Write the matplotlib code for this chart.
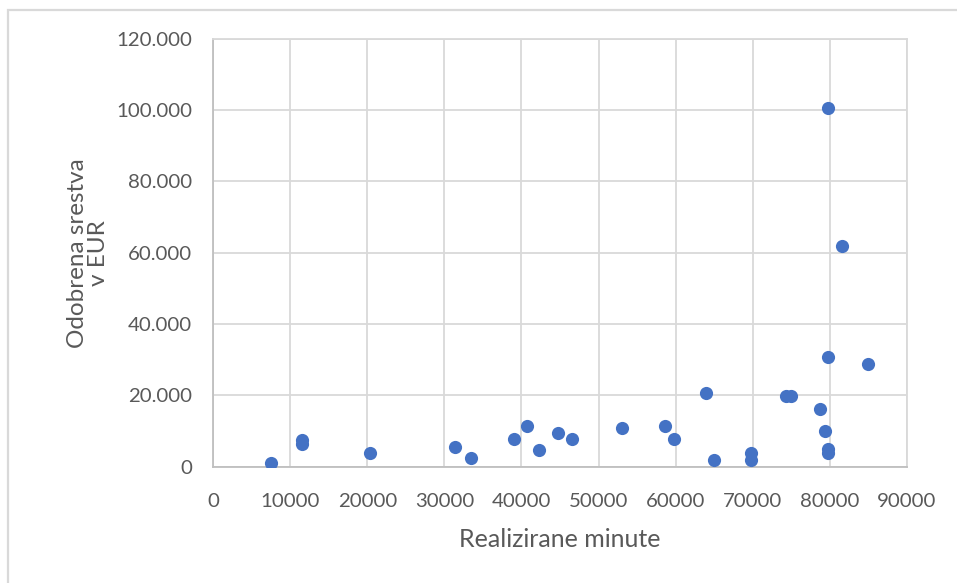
import matplotlib.pyplot as plt
from matplotlib.patches import Rectangle
from matplotlib.ticker import FuncFormatter

plt.rcParams['font.family'] = ['Lato', 'DejaVu Sans']

# Realizirane minute vs. odobrena sredstva (EUR)
minute = [7500, 11600, 11600, 20300, 31400, 33400, 39000, 40700, 42300,
          44800, 46500, 53100, 58600, 59800, 63900, 65000, 69800, 69800,
          74300, 74900, 78700, 79400, 79700, 79700, 79700, 85000, 81600,
          79700]
sredstva = [1000, 6500, 7500, 3900, 5600, 2400, 7800, 11500, 4700,
            9400, 7900, 10800, 11500, 7900, 20600, 1900, 3800, 1900,
            19900, 19900, 16200, 10100, 5100, 3800, 30900, 28700, 61900,
            100700]

x_ticks = list(range(0, 90001, 10000))
y_ticks = list(range(0, 120001, 20000))

grid_col = '#d9d9d9'
text_col = '#595959'

fig = plt.figure(figsize=(9.57, 5.83), dpi=100)
ax = fig.add_axes([0.2226, 0.1995, 0.7252, 0.7338])

ax.scatter(minute, sredstva, s=90, color='#4472c4', zorder=3, linewidths=0)

ax.set_xlim(0, 90000)
ax.set_ylim(0, 120000)
ax.set_xticks(x_ticks)
ax.set_yticks(y_ticks)
ax.yaxis.set_major_formatter(FuncFormatter(lambda v, p: f"{int(v):,}".replace(",", ".")))
ax.grid(True, color=grid_col, linewidth=1.3)
ax.set_axisbelow(True)
for s in ax.spines.values():
    s.set_color(grid_col)
    s.set_linewidth(1.3)
ax.spines['left'].set_color('#bfbfbf')
ax.spines['bottom'].set_color('#bfbfbf')
ax.tick_params(length=0, labelsize=14.7, labelcolor=text_col)
ax.tick_params(axis='y', pad=15)
ax.tick_params(axis='x', pad=19)

ax.set_xlabel("Realizirane minute", fontsize=18, color=text_col, labelpad=13)
ax.set_ylabel("Odobrena srestva\nv EUR", fontsize=17.5, color=text_col,
              labelpad=5, linespacing=1.0)

# outer chart frame
fig.patches.append(Rectangle((8 / 957, -0.1), 1.2, (583 - 10) / 583 + 0.1,
                             transform=fig.transFigure, fill=False,
                             edgecolor=grid_col, linewidth=1.6))

fig.savefig("out.png", dpi=100)
